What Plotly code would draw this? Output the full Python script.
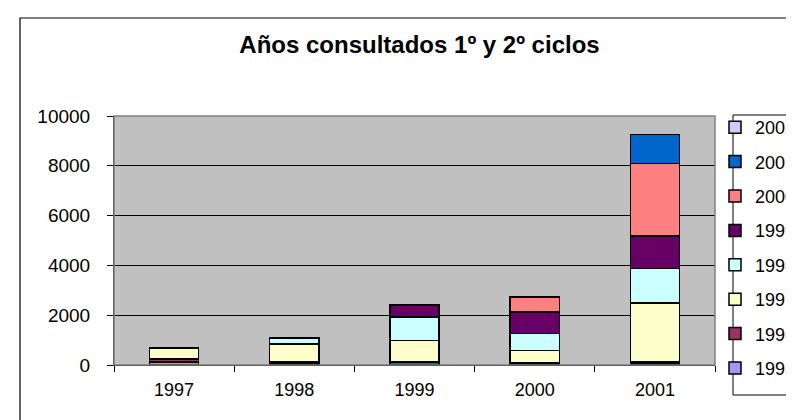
import plotly.graph_objects as go

categories = ["1997", "1998", "1999", "2000", "2001"]
series_names = ["1995", "1996", "1997", "1998", "1999", "2000", "2001", "2002"]
s1995 = [120, 50, 30, 40, 60]
s1996 = [130, 80, 100, 40, 70]
s1997 = [430, 720, 860, 510, 2370]
s1998 = [0, 230, 940, 670, 1380]
s1999 = [0, 0, 480, 870, 1300]
s2000 = [0, 0, 0, 600, 2920]
s2001 = [0, 0, 0, 0, 1165]
s2002 = [0, 0, 0, 0, 0]
series_values = [s1995, s1996, s1997, s1998, s1999, s2000, s2001, s2002]
colors = ["#9999FF", "#993366", "#FFFFCC", "#CCFFFF", "#660066", "#FF8080", "#0066CC", "#CCCCFF"]
y_ticks = [0, 2000, 4000, 6000, 8000, 10000]
y_tick_text = ["0", "2000", "4000", "6000", "8000", "10000"]

W, H = 794, 420
L, R, T, B = 106, 87, 108, 63
pw, ph = W - L - R, H - T - B

def px_x(x):
    return (x - L) / pw

def px_y(y):
    return (H - B - y) / ph

font = "Arial, Liberation Sans, sans-serif"
fig = go.Figure()
n = len(series_names)
for i, (name, vals, col) in enumerate(zip(series_names, series_values, colors)):
    fig.add_trace(go.Bar(
        x=categories, y=vals, name=name, legendgroup=name, legendrank=n - i,
        marker=dict(color=col, line=dict(color="black", width=1.5)),
        width=0.41,
    ))

fig.update_layout(
    width=W, height=H, barmode="stack",
    margin=dict(l=L, r=R, t=T, b=B, autoexpand=False),
    paper_bgcolor="white", plot_bgcolor="#C0C0C0",
    font=dict(family=font, size=18, color="black"),
    title=dict(text="<b>Años consultados 1º y 2º ciclos</b>", x=411.5 / W, xanchor="center",
               y=1 - 37 / H, yanchor="middle", font=dict(size=24, family=font)),
    showlegend=True,
    legend=dict(x=px_x(707), y=px_y(101), xanchor="left", yanchor="top",
                traceorder="grouped", tracegroupgap=8, maxheight=310,
                bgcolor="rgba(0,0,0,0)", borderwidth=0,
                font=dict(size=18, family=font)),
)
fig.update_xaxes(type="category", showline=True, linecolor="black", linewidth=1,
                 ticks="outside", ticklen=6, tickcolor="black", tickson="boundaries",
                 showgrid=False, ticklabelstandoff=8)
fig.update_yaxes(range=[0, 10000], tickvals=y_ticks, ticktext=y_tick_text, showline=True,
                 linecolor="black", linewidth=1, ticks="outside", ticklen=6, tickcolor="black",
                 showgrid=True, gridcolor="black", gridwidth=1, zeroline=False,
                 ticklabelstandoff=13, tickfont=dict(size=19))

# plot area border (top/right gray)
fig.add_shape(type="rect", xref="paper", yref="paper", x0=0, x1=1, y0=0, y1=1,
              line=dict(color="#808080", width=1.5), layer="above")
# outer chart border
fig.add_shape(type="rect", xref="paper", yref="paper",
              x0=px_x(12), x1=px_x(810), y0=px_y(430), y1=px_y(10),
              line=dict(color="black", width=1.2), fillcolor="rgba(0,0,0,0)")
# legend border
fig.add_shape(type="rect", xref="paper", yref="paper",
              x0=px_x(725), x1=px_x(810), y0=px_y(387), y1=px_y(107),
              line=dict(color="black", width=1), fillcolor="rgba(0,0,0,0)")

fig.write_html("out.html")
